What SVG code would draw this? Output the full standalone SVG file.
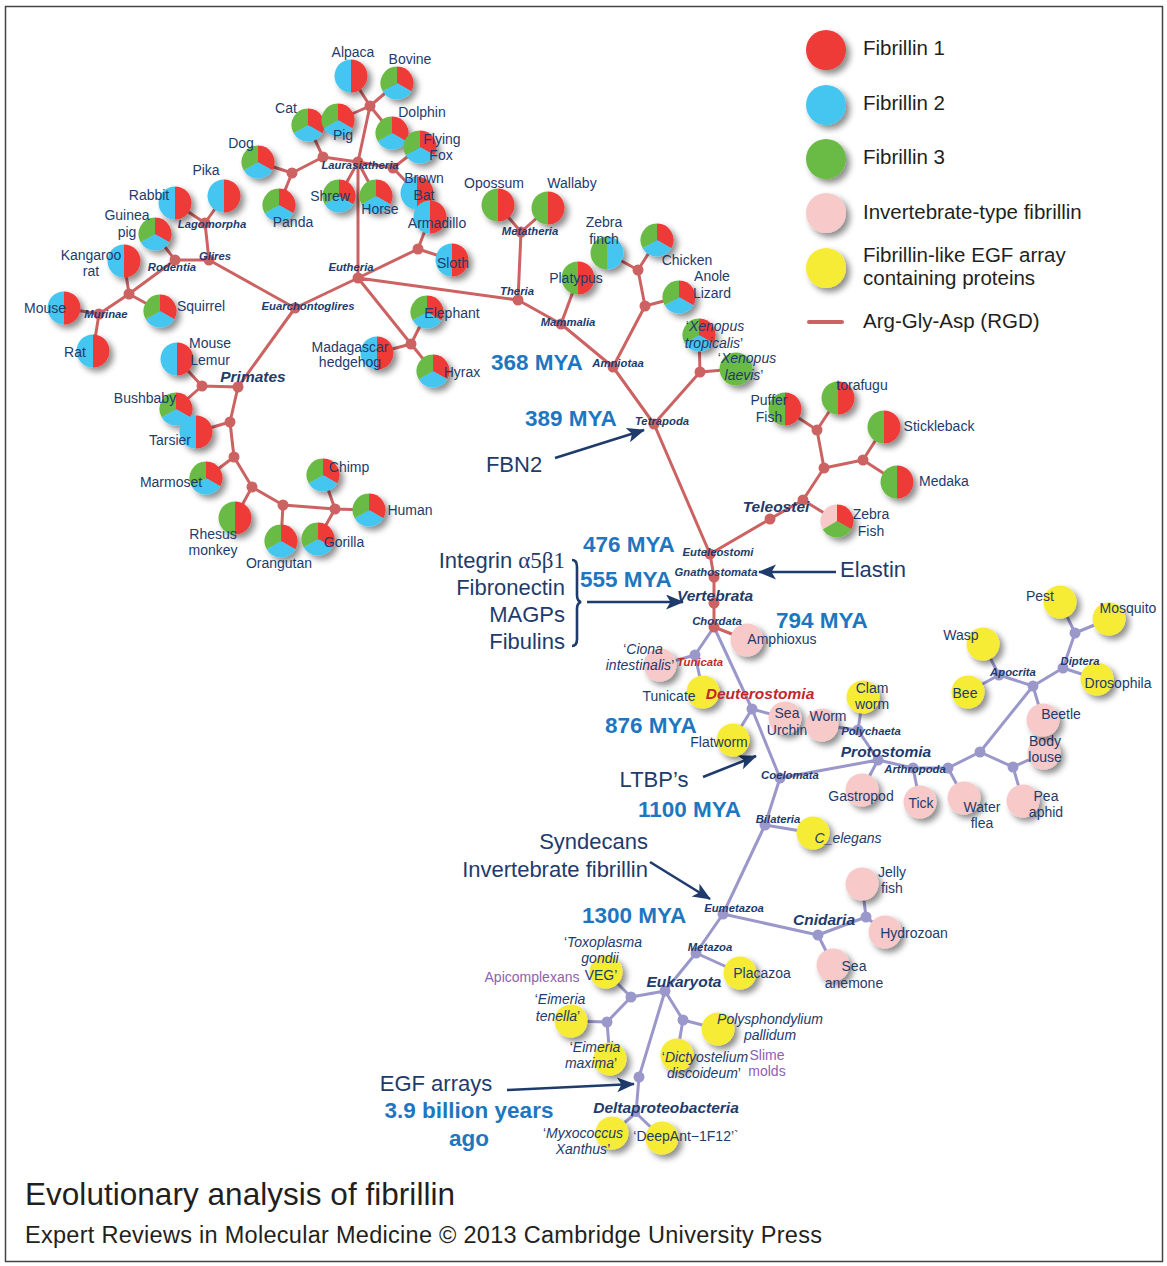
<svg xmlns="http://www.w3.org/2000/svg" width="1167" height="1266" viewBox="0 0 1167 1266">
<style>
text{font-family:"Liberation Sans",Arial,sans-serif;fill:#1e3b6c}
.sp{font-size:14px;text-anchor:middle}
.it{font-style:italic}
.q{font-style:normal}
.cl{font-size:11.3px;font-weight:bold;font-style:italic;text-anchor:middle}
.big{font-size:15.5px;font-weight:bold;font-style:italic;text-anchor:middle}
.red{fill:#c1272d}
.pur{fill:#8e5fb3}
.mya{font-size:22.5px;font-weight:bold;fill:#1f76c0}
.ann{font-size:22px}
.leg{font-size:20.5px;fill:#231f20}
.er{stroke:#cc6262;stroke-width:3;fill:none;stroke-linecap:round}
.ep{stroke:#9a97cb;stroke-width:3;fill:none;stroke-linecap:round}
.dr{fill:#cc6262}
.dp{fill:#9a97cb}
.sh{filter:url(#shadow)}
.arr{stroke:#1e3b6c;stroke-width:2.6;fill:none;marker-end:url(#ah)}
</style>
<defs>
<filter id="shadow" x="-60%" y="-60%" width="220%" height="220%">
<feDropShadow dx="4" dy="4" stdDeviation="3" flood-color="#000" flood-opacity="0.45"/>
</filter>
<marker id="ah" markerUnits="userSpaceOnUse" markerWidth="20" markerHeight="16" refX="17" refY="7.5" orient="auto">
<path d="M0,0 L18,7.5 L0,15 L4.5,7.5 Z" fill="#1e3b6c"/>
</marker>
<g id="tri">
<path d="M0,0 L0,-16.5 A16.5,16.5 0 0 1 14.29,8.25 Z" fill="#ee3a39"/>
<path d="M0,0 L14.29,8.25 A16.5,16.5 0 0 1 -14.29,8.25 Z" fill="#45c6f1"/>
<path d="M0,0 L-14.29,8.25 A16.5,16.5 0 0 1 0,-16.5 Z" fill="#6bbb45"/>
</g>
<g id="triz">
<path d="M0,0 L0,-16.5 A16.5,16.5 0 0 1 14.29,8.25 Z" fill="#ee3a39"/>
<path d="M0,0 L14.29,8.25 A16.5,16.5 0 0 1 -14.29,8.25 Z" fill="#6bbb45"/>
<path d="M0,0 L-14.29,8.25 A16.5,16.5 0 0 1 0,-16.5 Z" fill="#f7c9c9"/>
</g>
<g id="hbr">
<path d="M0,16.5 A16.5,16.5 0 0 1 0,-16.5 Z" fill="#45c6f1"/>
<path d="M0,-16.5 A16.5,16.5 0 0 1 0,16.5 Z" fill="#ee3a39"/>
</g>
<g id="hgr">
<path d="M0,16.5 A16.5,16.5 0 0 1 0,-16.5 Z" fill="#6bbb45"/>
<path d="M0,-16.5 A16.5,16.5 0 0 1 0,16.5 Z" fill="#ee3a39"/>
</g>
<g id="hgb">
<path d="M0,16.5 A16.5,16.5 0 0 1 0,-16.5 Z" fill="#6bbb45"/>
<path d="M0,-16.5 A16.5,16.5 0 0 1 0,16.5 Z" fill="#45c6f1"/>
</g>
<circle id="cg" r="16.5" fill="#6bbb45"/>
<circle id="cp" r="16.5" fill="#f7c9c9"/>
<circle id="cy" r="16.5" fill="#f6ec36"/>
</defs>

<rect x="5.5" y="6.5" width="1157" height="1255" fill="#fff" stroke="#444" stroke-width="1.5"/>

<!-- legend -->
<g id="legend">
<circle cx="826" cy="50" r="20" fill="#ee3a39" class="sh"/>
<circle cx="826" cy="105" r="20" fill="#45c6f1" class="sh"/>
<circle cx="826" cy="159" r="20" fill="#6bbb45" class="sh"/>
<circle cx="826" cy="213" r="20" fill="#f7c9c9" class="sh"/>
<circle cx="826" cy="268" r="20" fill="#f6ec36" class="sh"/>
<line x1="809" y1="322" x2="842" y2="322" stroke="#cc6262" stroke-width="4" stroke-linecap="round"/>
<text class="leg" x="863" y="55">Fibrillin 1</text>
<text class="leg" x="863" y="110">Fibrillin 2</text>
<text class="leg" x="863" y="164">Fibrillin 3</text>
<text class="leg" x="863" y="219">Invertebrate-type fibrillin</text>
<text class="leg" x="863" y="262">Fibrillin-like EGF array</text>
<text class="leg" x="863" y="285">containing proteins</text>
<text class="leg" x="863" y="328">Arg-Gly-Asp (RGD)</text>
</g>

<!-- connectors -->
<g id="connectors">
<path class="er" d="M370,106 L351,76 M370,106 L397,83 M370,106 L338,120 M370,106 L392,133 M370,106 L358,162 M358,162 L323,157 M323,157 L308,125 M323,157 L292,173 M292,173 L258,162 M292,173 L279,205 M358,162 L339,196 M358,162 L376,196 M358,162 L393,168 M393,168 L420,147 M393,168 L417,193 M358,162 L358,278 M358,278 L418,249 M418,249 L430,217 M418,249 L452,260 M358,278 L411,344 M411,344 L427,312 M411,344 L377,353 M411,344 L433,371 M358,278 L295,308 M358,278 L518,300 M295,308 L209,260 M209,260 L205,223 M205,223 L175,203 M205,223 L224,196 M209,260 L175,260 M175,260 L155,234 M175,260 L129,294 M129,294 L124,261 M129,294 L160,311 M129,294 L99,314 M99,314 L64,308 M99,314 L93,351 M295,308 L238,387 M238,387 L202,386 M202,386 L177,359 M202,386 L176,409 M238,387 L230,422 M230,422 L196,432 M230,422 L234,457 M234,457 L206,478 M234,457 L252,487 M252,487 L235,518 M252,487 L283,505 M283,505 L281,541 M283,505 L335,509 M335,509 L323,475 M335,509 L369,510 M335,509 L318,539 M518,300 L521,232 M521,232 L498,205 M521,232 L548,208 M518,300 L561,324 M561,324 L578,278 M561,324 L613,367 M613,367 L645,306 M645,306 L679,297 M645,306 L638,270 M638,270 L607,253 M638,270 L657,240 M613,367 L654,424 M654,424 L700,372 M700,372 L699,335 M700,372 L736,369 M654,424 L710,554 M710,554 L770,519 M770,519 L803,500 M803,500 L837,521 M803,500 L824,468 M824,468 L817,430 M817,430 L785,409 M817,430 L838,398 M824,468 L863,460 M863,460 L884,427 M863,460 L897,482 M710,554 L714,577 L714,603 L714,627 M714,627 L747,640"/>
<path class="ep" d="M714,627 L695,655 M695,655 L660,665 M695,655 L703,692 M714,627 L752,709 M752,709 L785,718 M752,709 L733,740 M752,709 L780,778 M780,778 L878,760 M878,760 L858,730 M858,730 L863,697 M858,730 L822,725 M878,760 L862,790 M878,760 L913,768 M913,768 L920,802 M913,768 L948,768 M948,768 L964,798 M948,768 L980,752 M980,752 L1013,767 M1013,767 L1044,753 M1013,767 L1023,801 M980,752 L1033,686 M1033,686 L1043,720 M1033,686 L999,675 M999,675 L983,644 M999,675 L968,692 M1033,686 L1063,668 M1063,668 L1097,679 M1063,668 L1075,633 M1075,633 L1060,602 M1075,633 L1109,619 M780,778 L765,825 M765,825 L813,833 M765,825 L723,914 M723,914 L818,935 M818,935 L866,917 M866,917 L862,884 M866,917 L885,932 M818,935 L833,965 M723,914 L696,953 M696,953 L740,973 M696,953 L665,991 M665,991 L631,997 M631,997 L606,972 M631,997 L607,1022 M607,1022 L571,1021 M607,1022 L610,1059 M665,991 L683,1020 M683,1020 L718,1029 M683,1020 L677,1055 M665,991 L639,1077 L636,1113 M636,1113 L612,1133 M636,1113 L662,1138"/>
<path class="arr" d="M555,458 L644,430"/>
<path class="arr" d="M836,572 L759,572"/>
<path class="arr" d="M587,602 L683,602"/>
<path class="arr" d="M703,777 L756,756"/>
<path class="arr" d="M650,862 L710,899"/>
<path class="arr" d="M507,1090 L634,1084"/>
<path d="M572,560 Q577,560 577,567 L577,595 Q577,601 581,602 Q577,603 577,609 L577,639 Q577,646 572,646" fill="none" stroke="#1e3b6c" stroke-width="2.6"/>
</g>

<!-- unlabelled branch points -->
<g id="n-hub1"><circle class="dr" cx="370" cy="106" r="5.5"/></g>
<g id="n-carn"><circle class="dr" cx="323" cy="157" r="5.5"/></g>
<g id="n-dogpanda"><circle class="dr" cx="292" cy="173" r="5.5"/></g>
<g id="n-bats"><circle class="dr" cx="393" cy="168" r="5.5"/></g>
<g id="n-xen"><circle class="dr" cx="418" cy="249" r="5.5"/></g>
<g id="n-afro"><circle class="dr" cx="411" cy="344" r="5.5"/></g>
<g id="n-rod2"><circle class="dr" cx="129" cy="294" r="5.5"/></g>
<g id="n-strep"><circle class="dr" cx="202" cy="386" r="5.5"/></g>
<g id="n-p2"><circle class="dr" cx="230" cy="422" r="5.5"/></g>
<g id="n-p3"><circle class="dr" cx="234" cy="457" r="5.5"/></g>
<g id="n-p4"><circle class="dr" cx="252" cy="487" r="5.5"/></g>
<g id="n-p5"><circle class="dr" cx="283" cy="505" r="5.5"/></g>
<g id="n-p6"><circle class="dr" cx="335" cy="509" r="5.5"/></g>
<g id="n-saur"><circle class="dr" cx="645" cy="306" r="5.5"/></g>
<g id="n-birds"><circle class="dr" cx="638" cy="270" r="5.5"/></g>
<g id="n-xenopus"><circle class="dr" cx="700" cy="372" r="5.5"/></g>
<g id="n-f1"><circle class="dr" cx="803" cy="500" r="5.5"/></g>
<g id="n-f2"><circle class="dr" cx="824" cy="468" r="5.5"/></g>
<g id="n-f3"><circle class="dr" cx="817" cy="430" r="5.5"/></g>
<g id="n-f4"><circle class="dr" cx="863" cy="460" r="5.5"/></g>
<g id="n-deuterostomia"><circle class="dp" cx="752" cy="709" r="5.5"/></g>
<g id="n-a2"><circle class="dp" cx="948" cy="768" r="5.5"/></g>
<g id="n-a3"><circle class="dp" cx="980" cy="752" r="5.5"/></g>
<g id="n-a4"><circle class="dp" cx="1013" cy="767" r="5.5"/></g>
<g id="n-a5"><circle class="dp" cx="1033" cy="686" r="5.5"/></g>
<g id="n-a6"><circle class="dp" cx="1075" cy="633" r="5.5"/></g>
<g id="n-cn2"><circle class="dp" cx="866" cy="917" r="5.5"/></g>
<g id="n-apicomplexa"><circle class="dp" cx="631" cy="997" r="5.5"/></g>
<g id="n-eimeria"><circle class="dp" cx="607" cy="1022" r="5.5"/></g>
<g id="n-slime"><circle class="dp" cx="683" cy="1020" r="5.5"/></g>
<g id="n-egf"><circle class="dp" cx="639" cy="1077" r="5.5"/></g>

<!-- species -->
<g id="alpaca"><use href="#hbr" x="351" y="76" class="sh"/><text class="sp" x="353" y="57">Alpaca</text></g>
<g id="bovine"><use href="#tri" x="397" y="83" class="sh"/><text class="sp" x="410" y="64">Bovine</text></g>
<g id="cat"><use href="#tri" x="308" y="125" class="sh"/><text class="sp" x="286" y="113">Cat</text></g>
<g id="pig"><use href="#tri" x="338" y="120" class="sh"/><text class="sp" x="343" y="140">Pig</text></g>
<g id="dolphin"><use href="#tri" x="392" y="133" class="sh"/><text class="sp" x="422" y="117">Dolphin</text></g>
<g id="flyingfox"><use href="#tri" x="420" y="147" class="sh"/><text class="sp" x="442" y="144">Flying</text><text class="sp" x="441" y="160">Fox</text></g>
<g id="dog"><use href="#tri" x="258" y="162" class="sh"/><text class="sp" x="241" y="148">Dog</text></g>
<g id="panda"><use href="#tri" x="279" y="205" class="sh"/><text class="sp" x="293" y="227">Panda</text></g>
<g id="shrew"><use href="#tri" x="339" y="196" class="sh"/><text class="sp" x="330" y="201">Shrew</text></g>
<g id="horse"><use href="#tri" x="376" y="196" class="sh"/><text class="sp" x="380" y="214">Horse</text></g>
<g id="brownbat"><use href="#hbr" x="417" y="193" class="sh"/><text class="sp" x="424" y="183">Brown</text><text class="sp" x="424" y="200">Bat</text></g>
<g id="armadillo"><use href="#hbr" x="430" y="217" class="sh"/><text class="sp" x="437" y="228">Armadillo</text></g>
<g id="sloth"><use href="#hbr" x="452" y="260" class="sh"/><text class="sp" x="453" y="268">Sloth</text></g>
<g id="elephant"><use href="#tri" x="427" y="312" class="sh"/><text class="sp" x="452" y="318">Elephant</text></g>
<g id="hedgehog"><use href="#hbr" x="377" y="353" class="sh"/><text class="sp" x="350" y="352">Madagascar</text><text class="sp" x="350" y="367">hedgehog</text></g>
<g id="hyrax"><use href="#tri" x="433" y="371" class="sh"/><text class="sp" x="462" y="377">Hyrax</text></g>
<g id="pika"><use href="#hbr" x="224" y="196" class="sh"/><text class="sp" x="206" y="175">Pika</text></g>
<g id="rabbit"><use href="#hbr" x="175" y="203" class="sh"/><text class="sp" x="149" y="200">Rabbit</text></g>
<g id="guineapig"><use href="#tri" x="155" y="234" class="sh"/><text class="sp" x="127" y="220">Guinea</text><text class="sp" x="127" y="237">pig</text></g>
<g id="kangaroorat"><use href="#hbr" x="124" y="261" class="sh"/><text class="sp" x="91" y="260">Kangaroo</text><text class="sp" x="91" y="276">rat</text></g>
<g id="squirrel"><use href="#tri" x="160" y="311" class="sh"/><text class="sp" x="201" y="311">Squirrel</text></g>
<g id="mouse"><use href="#hbr" x="64" y="308" class="sh"/><text class="sp" x="45" y="313">Mouse</text></g>
<g id="rat"><use href="#hbr" x="93" y="351" class="sh"/><text class="sp" x="75" y="357">Rat</text></g>
<g id="mouselemur"><use href="#hbr" x="177" y="359" class="sh"/><text class="sp" x="210" y="348">Mouse</text><text class="sp" x="210" y="365">Lemur</text></g>
<g id="bushbaby"><use href="#tri" x="176" y="409" class="sh"/><text class="sp" x="145" y="403">Bushbaby</text></g>
<g id="tarsier"><use href="#hbr" x="196" y="432" class="sh"/><text class="sp" x="170" y="445">Tarsier</text></g>
<g id="marmoset"><use href="#tri" x="206" y="478" class="sh"/><text class="sp" x="171" y="487">Marmoset</text></g>
<g id="rhesus"><use href="#hgr" x="235" y="518" class="sh"/><text class="sp" x="213" y="539">Rhesus</text><text class="sp" x="213" y="555">monkey</text></g>
<g id="orangutan"><use href="#tri" x="281" y="541" class="sh"/><text class="sp" x="279" y="568">Orangutan</text></g>
<g id="chimp"><use href="#tri" x="323" y="475" class="sh"/><text class="sp" x="349" y="472">Chimp</text></g>
<g id="human"><use href="#tri" x="369" y="510" class="sh"/><text class="sp" x="410" y="515">Human</text></g>
<g id="gorilla"><use href="#tri" x="318" y="539" class="sh"/><text class="sp" x="344" y="547">Gorilla</text></g>
<g id="opossum"><use href="#hgr" x="498" y="205" class="sh"/><text class="sp" x="494" y="188">Opossum</text></g>
<g id="wallaby"><use href="#hgr" x="548" y="208" class="sh"/><text class="sp" x="572" y="188">Wallaby</text></g>
<g id="platypus"><use href="#hgr" x="578" y="278" class="sh"/><text class="sp" x="576" y="283">Platypus</text></g>
<g id="zebrafinch"><use href="#hgb" x="607" y="253" class="sh"/><text class="sp" x="604" y="227">Zebra</text><text class="sp" x="604" y="244">finch</text></g>
<g id="chicken"><use href="#tri" x="657" y="240" class="sh"/><text class="sp" x="687" y="265">Chicken</text></g>
<g id="anole"><use href="#tri" x="679" y="297" class="sh"/><text class="sp" x="712" y="281">Anole</text><text class="sp" x="712" y="298">Lizard</text></g>
<g id="xtropicalis"><use href="#tri" x="699" y="335" class="sh"/><text class="sp it" x="715" y="331"><tspan class="q">‘</tspan>Xenopus</text><text class="sp it" x="714" y="348">tropicalis<tspan class="q">’</tspan></text></g>
<g id="xlaevis"><use href="#cg" x="736" y="369" class="sh"/><text class="sp it" x="747" y="363"><tspan class="q">‘</tspan>Xenopus</text><text class="sp it" x="744" y="380">laevis<tspan class="q">’</tspan></text></g>
<g id="pufferfish"><use href="#hgr" x="785" y="409" class="sh"/><text class="sp" x="769" y="405">Puffer</text><text class="sp" x="769" y="422">Fish</text></g>
<g id="torafugu"><use href="#hgr" x="838" y="398" class="sh"/><text class="sp" x="862" y="390">torafugu</text></g>
<g id="stickleback"><use href="#hgr" x="884" y="427" class="sh"/><text class="sp" x="939" y="431">Stickleback</text></g>
<g id="medaka"><use href="#hgr" x="897" y="482" class="sh"/><text class="sp" x="944" y="486">Medaka</text></g>
<g id="zebrafish"><use href="#triz" x="837" y="521" class="sh"/><text class="sp" x="871" y="519">Zebra</text><text class="sp" x="871" y="536">Fish</text></g>
<g id="amphioxus"><use href="#cp" x="747" y="640" class="sh"/><text class="sp" x="782" y="644">Amphioxus</text></g>
<g id="ciona"><use href="#cp" x="660" y="665" class="sh"/><text class="sp it" x="643" y="654"><tspan class="q">‘</tspan>Ciona</text><text class="sp it" x="640" y="670">intestinalis<tspan class="q">’</tspan></text></g>
<g id="tunicate"><use href="#cy" x="703" y="692" class="sh"/><text class="sp" x="669" y="701">Tunicate</text></g>
<g id="seaurchin"><use href="#cp" x="785" y="718" class="sh"/><text class="sp" x="787" y="718">Sea</text><text class="sp" x="787" y="735">Urchin</text></g>
<g id="flatworm"><use href="#cy" x="733" y="740" class="sh"/><text class="sp" x="719" y="747">Flatworm</text></g>
<g id="worm"><use href="#cp" x="822" y="725" class="sh"/><text class="sp" x="828" y="721">Worm</text></g>
<g id="clamworm"><use href="#cy" x="863" y="697" class="sh"/><text class="sp" x="872" y="693">Clam</text><text class="sp" x="872" y="709">worm</text></g>
<g id="gastropod"><use href="#cp" x="862" y="790" class="sh"/><text class="sp" x="861" y="801">Gastropod</text></g>
<g id="tick"><use href="#cp" x="920" y="802" class="sh"/><text class="sp" x="921" y="808">Tick</text></g>
<g id="waterflea"><use href="#cp" x="964" y="798" class="sh"/><text class="sp" x="982" y="812">Water</text><text class="sp" x="982" y="828">flea</text></g>
<g id="peaaphid"><use href="#cp" x="1023" y="801" class="sh"/><text class="sp" x="1046" y="801">Pea</text><text class="sp" x="1046" y="817">aphid</text></g>
<g id="bodylouse"><use href="#cp" x="1044" y="753" class="sh"/><text class="sp" x="1045" y="746">Body</text><text class="sp" x="1045" y="762">louse</text></g>
<g id="beetle"><use href="#cp" x="1043" y="720" class="sh"/><text class="sp" x="1061" y="719">Beetle</text></g>
<g id="wasp"><use href="#cy" x="983" y="644" class="sh"/><text class="sp" x="961" y="640">Wasp</text></g>
<g id="bee"><use href="#cy" x="968" y="692" class="sh"/><text class="sp" x="965" y="698">Bee</text></g>
<g id="pest"><use href="#cy" x="1060" y="602" class="sh"/><text class="sp" x="1040" y="601">Pest</text></g>
<g id="mosquito"><use href="#cy" x="1109" y="619" class="sh"/><text class="sp" x="1128" y="613">Mosquito</text></g>
<g id="drosophila"><use href="#cy" x="1097" y="679" class="sh"/><text class="sp" x="1118" y="688">Drosophila</text></g>
<g id="celegans"><use href="#cy" x="813" y="833" class="sh"/><text class="sp it" x="848" y="843">C_elegans</text></g>
<g id="jellyfish"><use href="#cp" x="862" y="884" class="sh"/><text class="sp" x="892" y="877">Jelly</text><text class="sp" x="892" y="893">fish</text></g>
<g id="hydrozoan"><use href="#cp" x="885" y="932" class="sh"/><text class="sp" x="914" y="938">Hydrozoan</text></g>
<g id="seaanemone"><use href="#cp" x="833" y="965" class="sh"/><text class="sp" x="854" y="971">Sea</text><text class="sp" x="854" y="988">anemone</text></g>
<g id="placazoa"><use href="#cy" x="740" y="973" class="sh"/><text class="sp" x="762" y="978">Placazoa</text></g>
<g id="toxoplasma"><use href="#cy" x="606" y="972" class="sh"/><text class="sp it" x="603" y="947"><tspan class="q">‘</tspan>Toxoplasma</text><text class="sp it" x="600" y="963">gondii</text><text class="sp" x="601" y="980">VEG’</text></g>
<g id="eimeriatenella"><use href="#cy" x="571" y="1021" class="sh"/><text class="sp it" x="560" y="1004"><tspan class="q">‘</tspan>Eimeria</text><text class="sp it" x="558" y="1021">tenella<tspan class="q">’</tspan></text></g>
<g id="eimeriamaxima"><use href="#cy" x="610" y="1059" class="sh"/><text class="sp it" x="595" y="1052"><tspan class="q">‘</tspan>Eimeria</text><text class="sp it" x="591" y="1068">maxima<tspan class="q">’</tspan></text></g>
<g id="polysphondylium"><use href="#cy" x="718" y="1029" class="sh"/><text class="sp it" x="770" y="1024">Polysphondylium</text><text class="sp it" x="770" y="1040">pallidum</text></g>
<g id="dictyostelium"><use href="#cy" x="677" y="1055" class="sh"/><text class="sp it" x="705" y="1062"><tspan class="q">‘</tspan>Dictyostelium</text><text class="sp it" x="704" y="1078">discoideum<tspan class="q">’</tspan></text></g>
<g id="myxococcus"><use href="#cy" x="612" y="1133" class="sh"/><text class="sp it" x="583" y="1138"><tspan class="q">‘</tspan>Myxococcus</text><text class="sp it" x="583" y="1154">Xanthus<tspan class="q">’</tspan></text></g>
<g id="deepant"><use href="#cy" x="662" y="1138" class="sh"/><text class="sp" x="686" y="1141">‘DeepAnt−1F12’`</text></g>

<!-- labelled clade nodes -->
<g id="n-laurasiatheria"><circle class="dr" cx="358" cy="162" r="5.5"/><text class="cl" x="360" y="169">Laurasiatheria</text></g>
<g id="n-eutheria"><circle class="dr" cx="358" cy="278" r="5.5"/><text class="cl" x="351" y="271">Eutheria</text></g>
<g id="n-euarch"><circle class="dr" cx="295" cy="308" r="5.5"/><text class="cl" x="308" y="310">Euarchontoglires</text></g>
<g id="n-glires"><circle class="dr" cx="209" cy="260" r="5.5"/><text class="cl" x="215" y="260">Glires</text></g>
<g id="n-lagomorpha"><circle class="dr" cx="205" cy="223" r="5.5"/><text class="cl" x="212" y="228">Lagomorpha</text></g>
<g id="n-rodentia"><circle class="dr" cx="175" cy="260" r="5.5"/><text class="cl" x="172" y="271">Rodentia</text></g>
<g id="n-murinae"><circle class="dr" cx="99" cy="314" r="5.5"/><text class="cl" x="106" y="318">Murinae</text></g>
<g id="n-primates"><circle class="dr" cx="238" cy="387" r="5.5"/><text class="big" x="253" y="382">Primates</text></g>
<g id="n-theria"><circle class="dr" cx="518" cy="300" r="5.5"/><text class="cl" x="517" y="295">Theria</text></g>
<g id="n-metatheria"><circle class="dr" cx="521" cy="232" r="5.5"/><text class="cl" x="530" y="235">Metatheria</text></g>
<g id="n-mammalia"><circle class="dr" cx="561" cy="324" r="5.5"/><text class="cl" x="568" y="326">Mammalia</text></g>
<g id="n-amniotaa"><circle class="dr" cx="613" cy="367" r="5.5"/><text class="cl" x="618" y="367">Amniotaa</text></g>
<g id="n-tetrapoda"><circle class="dr" cx="654" cy="424" r="5.5"/><text class="cl" x="662" y="425">Tetrapoda</text></g>
<g id="n-euteleostomi"><circle class="dr" cx="710" cy="554" r="5.5"/><text class="cl" x="718" y="556">Euteleostomi</text></g>
<g id="n-teleostei"><circle class="dr" cx="770" cy="519" r="5.5"/><text class="big" x="776" y="512">Teleostei</text></g>
<g id="n-gnathostomata"><circle class="dr" cx="714" cy="577" r="5.5"/><text class="cl" x="716" y="576">Gnathostomata</text></g>
<g id="n-vertebrata"><circle class="dr" cx="714" cy="603" r="5.5"/><text class="big" x="715" y="601">Vertebrata</text></g>
<g id="n-chordata"><circle class="dr" cx="714" cy="627" r="5.5"/><text class="cl" x="717" y="625">Chordata</text></g>
<g id="n-tunicata"><circle class="dp" cx="695" cy="655" r="5.5"/><text class="cl red" x="700" y="666">Tunicata</text></g>
<g id="deuterostomia-label"><text class="big red" x="760" y="699">Deuterostomia</text></g>
<g id="n-coelomata"><circle class="dp" cx="780" cy="778" r="5.5"/><text class="cl" x="790" y="779">Coelomata</text></g>
<g id="n-protostomia"><circle class="dp" cx="878" cy="760" r="5.5"/><text class="big" x="886" y="757">Protostomia</text></g>
<g id="n-polychaeta"><circle class="dp" cx="858" cy="730" r="5.5"/><text class="cl" x="871" y="735">Polychaeta</text></g>
<g id="n-arthropoda"><circle class="dp" cx="913" cy="768" r="5.5"/><text class="cl" x="915" y="773">Arthropoda</text></g>
<g id="n-apocrita"><circle class="dp" cx="999" cy="675" r="5.5"/><text class="cl" x="1013" y="676">Apocrita</text></g>
<g id="n-diptera"><circle class="dp" cx="1063" cy="668" r="5.5"/><text class="cl" x="1080" y="665">Diptera</text></g>
<g id="n-bilateria"><circle class="dp" cx="765" cy="825" r="5.5"/><text class="cl" x="778" y="823">Bilateria</text></g>
<g id="n-eumetazoa"><circle class="dp" cx="723" cy="914" r="5.5"/><text class="cl" x="734" y="912">Eumetazoa</text></g>
<g id="n-cnidaria"><circle class="dp" cx="818" cy="935" r="5.5"/><text class="big" x="824" y="925">Cnidaria</text></g>
<g id="n-metazoa"><circle class="dp" cx="696" cy="953" r="5.5"/><text class="cl" x="710" y="951">Metazoa</text></g>
<g id="n-eukaryota"><circle class="dp" cx="665" cy="991" r="5.5"/><text class="big" x="684" y="987">Eukaryota</text></g>
<g id="n-deltaproteobacteria"><circle class="dp" cx="636" cy="1113" r="4"/><text class="big" x="666" y="1113">Deltaproteobacteria</text></g>

<!-- group labels -->
<text class="sp pur" x="532" y="982">Apicomplexans</text>
<text class="sp pur" x="767" y="1060">Slime</text>
<text class="sp pur" x="767" y="1076">molds</text>

<!-- time labels -->
<text class="mya" x="491" y="370">368 MYA</text>
<text class="mya" x="525" y="426">389 MYA</text>
<text class="mya" x="583" y="552">476 MYA</text>
<text class="mya" x="580" y="587">555 MYA</text>
<text class="mya" x="776" y="628">794 MYA</text>
<text class="mya" x="605" y="733">876 MYA</text>
<text class="mya" x="638" y="817">1100 MYA</text>
<text class="mya" x="582" y="923">1300 MYA</text>
<text class="mya" x="469" y="1118" text-anchor="middle">3.9 billion years</text>
<text class="mya" x="469" y="1146" text-anchor="middle">ago</text>

<!-- annotations -->
<text class="ann" x="514" y="472" text-anchor="middle">FBN2</text>
<text class="ann" x="565" y="568" text-anchor="end">Integrin <tspan font-family="Liberation Serif, serif" font-size="23">α5β1</tspan></text>
<text class="ann" x="565" y="595" text-anchor="end">Fibronectin</text>
<text class="ann" x="565" y="622" text-anchor="end">MAGPs</text>
<text class="ann" x="565" y="649" text-anchor="end">Fibulins</text>
<text class="ann" x="840" y="577">Elastin</text>
<text class="ann" x="654" y="787" text-anchor="middle">LTBP’s</text>
<text class="ann" x="648" y="849" text-anchor="end">Syndecans</text>
<text class="ann" x="648" y="877" text-anchor="end">Invertebrate fibrillin</text>
<text class="ann" x="436" y="1091" text-anchor="middle">EGF arrays</text>

<!-- caption -->
<text x="25" y="1205" font-size="31.5" style="fill:#231f20" textLength="430">Evolutionary analysis of fibrillin</text>
<text x="25" y="1243" font-size="23.5" style="fill:#231f20" textLength="797">Expert Reviews in Molecular Medicine © 2013 Cambridge University Press</text>
</svg>
